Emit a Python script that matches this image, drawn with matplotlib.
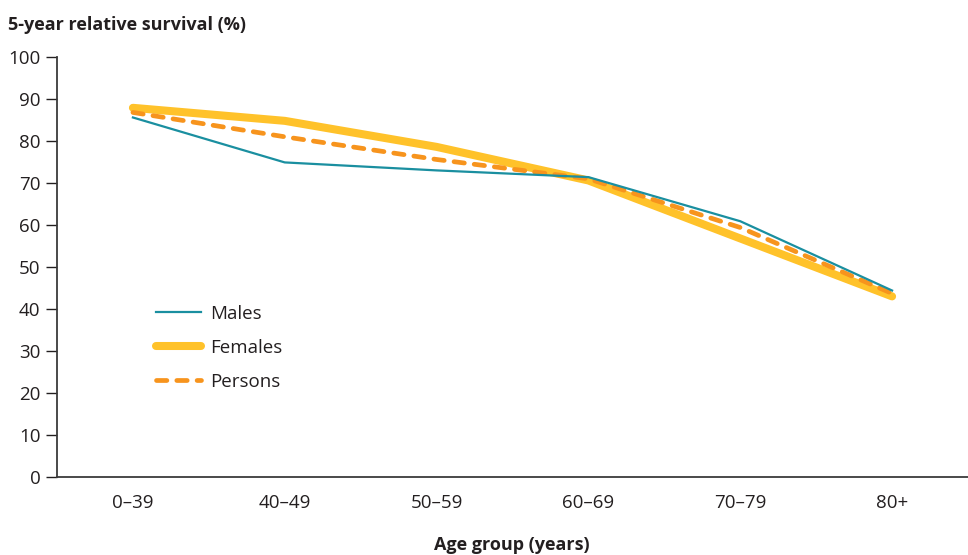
import matplotlib
matplotlib.use("Agg")
import matplotlib.pyplot as plt

categories = ["0–39", "40–49", "50–59", "60–69", "70–79", "80+"]
males = [85.6, 74.9, 73.0, 71.4, 60.9, 44.4]
females = [87.9, 84.8, 78.6, 70.6, 56.8, 43.0]
persons = [86.8, 81.0, 75.6, 71.0, 59.4, 43.7]
yticks = [0, 10, 20, 30, 40, 50, 60, 70, 80, 90, 100]

plt.rcParams['font.family'] = ['Open Sans', 'DejaVu Sans']

fig = plt.figure(figsize=(9.68, 5.55), dpi=100)
ax = fig.add_axes([57/968, 1 - 477/555, (968 - 57)/968, 420/555])

x = list(range(len(categories)))
ax.plot(x, females, color="#FFC22A", lw=5.8, solid_capstyle="round", label="Females", zorder=2)
ax.plot(x, persons, color="#F7941D", lw=3.4, ls=(0, (2.2, 2.1)), dash_capstyle="round", label="Persons", zorder=3)
ax.plot(x, males, color="#1A8FA0", lw=1.6, label="Males", zorder=4)

ax.set_xlim(-0.5, 5.5)
ax.set_ylim(0, 100)
ax.set_xticks(x)
ax.set_xticklabels(categories)
ax.set_yticks(yticks)
ax.tick_params(axis="x", length=0, pad=12, labelsize=13.5, colors="#231F20")
ax.tick_params(axis="y", length=8, width=1, pad=4, labelsize=13.5, colors="#231F20")
for s in ["top", "right"]:
    ax.spines[s].set_visible(False)
for s in ["left", "bottom"]:
    ax.spines[s].set_color("#3a3a3a")
    ax.spines[s].set_linewidth(1.3)

handles, labels = ax.get_legend_handles_labels()
order = [2, 0, 1]
ax.legend([handles[i] for i in order], [labels[i] for i in order],
          loc="upper left", bbox_to_anchor=(0.09, 0.45), frameon=False,
          fontsize=13.5, handlelength=2.4, handletextpad=0.5, labelspacing=0.85,
          labelcolor="#231F20")

fig.text(8/968, 1 - 25/555, "5-year relative survival (%)", fontsize=13, fontweight="bold",
         color="#231F20", va="center", ha="left")
fig.text(512/968, 1 - 545/555, "Age group (years)", fontsize=13, fontweight="bold",
         color="#231F20", va="center", ha="center")

fig.savefig("out.png", dpi=100)
